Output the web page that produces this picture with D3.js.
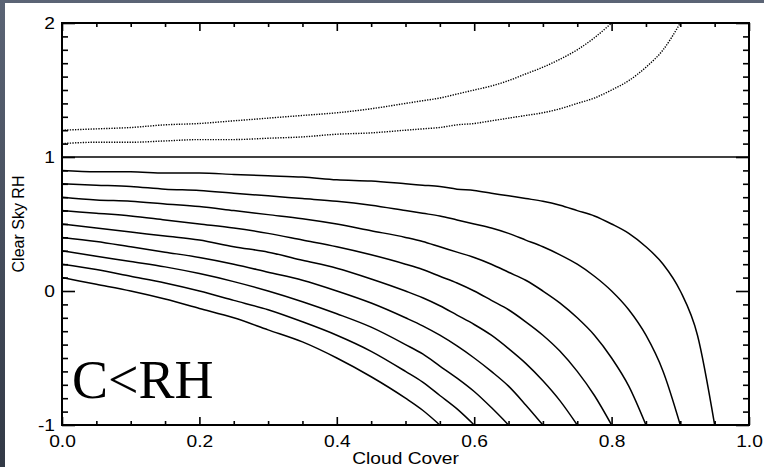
<!DOCTYPE html>
<html>
<head>
<meta charset="utf-8">
<script src="https://cdn.jsdelivr.net/npm/d3@7"></script>
<style>
  html, body { margin: 0; padding: 0; background: #3f4757; }
  svg { display: block; }
</style>
</head>
<body>
<svg id="chart" width="764" height="467"></svg>
<script>
// Cloud-cover sample points shared by every curve
const cover = [0, .05, .1, .15, .2, .25, .3, .35, .4, .45, .5, .525, .55, .575, .6,
  .625, .65, .675, .7, .725, .75, .775, .8, .825, .85, .875, .9, .925, .95];

// Clear-sky RH for grid-box RH below saturation (solid curves)
const rh90 = [.90, .89, .89, .88, .88, .87, .86, .85, .83, .82, .80, .79, .78, .76, .75, .73, .71, .69, .67, .64, .60, .56, .50, .43, .33, .20, 0, -.33, -1];
const rh80 = [.80, .79, .78, .76, .75, .73, .71, .69, .67, .64, .60, .58, .56, .53, .50, .47, .43, .38, .33, .27, .20, .11, 0, -.14, -.33, -.60, -1];
const rh70 = [.70, .68, .67, .65, .63, .60, .57, .54, .50, .45, .40, .37, .33, .29, .25, .20, .14, .08, 0, -.09, -.20, -.33, -.50, -.71, -1];
const rh60 = [.60, .58, .56, .53, .50, .47, .43, .38, .33, .27, .20, .16, .11, .06, 0, -.07, -.14, -.23, -.33, -.45, -.60, -.78, -1];
const rh50 = [.50, .47, .44, .41, .38, .33, .29, .23, .17, .09, 0, -.05, -.11, -.18, -.25, -.33, -.43, -.54, -.67, -.82, -1];
const rh40 = [.40, .37, .33, .29, .25, .20, .14, .08, 0, -.09, -.20, -.26, -.33, -.41, -.50, -.60, -.71, -.85, -1];
const rh30 = [.30, .26, .22, .18, .13, .07, 0, -.08, -.17, -.27, -.40, -.47, -.56, -.65, -.75, -.87, -1];
const rh20 = [.20, .16, .11, .06, 0, -.07, -.14, -.23, -.33, -.45, -.60, -.68, -.78, -.88, -1];
const rh10 = [.10, .05, 0, -.06, -.13, -.20, -.29, -.38, -.50, -.64, -.80, -.89, -1];

// Supersaturated grid-box RH (dotted curves)
const rh120 = [1.20, 1.21, 1.22, 1.24, 1.25, 1.27, 1.29, 1.31, 1.33, 1.36, 1.40, 1.42, 1.44, 1.47, 1.50, 1.53, 1.57, 1.62, 1.67, 1.73, 1.80, 1.89, 2];
const rh110 = [1.10, 1.11, 1.11, 1.12, 1.13, 1.13, 1.14, 1.15, 1.17, 1.18, 1.20, 1.21, 1.22, 1.24, 1.25, 1.27, 1.29, 1.31, 1.33, 1.36, 1.40, 1.44, 1.50, 1.57, 1.67, 1.80, 2];

// Saturation reference line
const satCover = [0, 1];
const satRH = [1, 1];

// Axis ticks and labels
const xMajor = [0, .2, .4, .6, .8, 1];
const xMinor = [.05, .1, .15, .25, .3, .35, .45, .5, .55, .65, .7, .75, .85, .9, .95];
const yMajor = [-1, 0, 1, 2];
const yMajorLabels = ["-1", "0", "1", "2"];
const yMinor = [-.9, -.8, -.7, -.6, -.5, -.4, -.3, -.2, -.1, .1, .2, .3, .4, .5, .6, .7, .8, .9,
  1.1, 1.2, 1.3, 1.4, 1.5, 1.6, 1.7, 1.8, 1.9];
const xTitle = "Cloud Cover";
const yTitle = "Clear Sky RH";
const panelNote = "C<RH";

const solidSeries = [rh90, rh80, rh70, rh60, rh50, rh40, rh30, rh20, rh10];
const dottedSeries = [rh120, rh110];

const W = 764, H = 467;
const svg = d3.select("#chart");

// Backdrop: slate frame with a white page
const defs = svg.append("defs");
const grad = defs.append("linearGradient").attr("id", "bg").attr("x1", 0).attr("y1", 0).attr("x2", 0).attr("y2", 1);
grad.append("stop").attr("offset", "0%").attr("stop-color", "#5b6475");
grad.append("stop").attr("offset", "100%").attr("stop-color", "#323946");
svg.append("rect").attr("width", W).attr("height", H).attr("fill", "url(#bg)");
svg.append("rect").attr("x", 5).attr("y", 3).attr("width", W - 5).attr("height", H - 3).attr("fill", "#fff");

const margin = { left: 62, right: 15, top: 23, bottom: 42 };
const x = d3.scaleLinear().domain([0, 1]).range([margin.left, W - margin.right]);
const y = d3.scaleLinear().domain([-1, 2]).range([H - margin.bottom, margin.top]);

defs.append("clipPath").attr("id", "plotClip").append("rect")
  .attr("x", x(0)).attr("y", y(2)).attr("width", x(1) - x(0)).attr("height", y(-1) - y(2));

const font = "'Liberation Sans', Arial, Helvetica, sans-serif";
const sx = 1.2; // horizontal stretch of axis lettering

function styleAxis(g) {
  g.select(".domain").remove();
  g.selectAll(".tick line").attr("stroke", "#000").attr("stroke-width", 1.6);
  g.selectAll("text").attr("font-family", font).attr("font-size", 16).attr("fill", "#000");
}

// Bottom axis: majors with labels, then minors
svg.append("g").attr("transform", `translate(0,${y(-1)})`)
  .call(d3.axisBottom(x).tickValues(xMajor).tickSizeInner(-8).tickSizeOuter(0).tickFormat(d3.format(".1f")))
  .call(styleAxis)
  .call(g => g.selectAll("text").attr("y", 11).attr("dy", "0.71em")
    .attr("transform", `scale(${sx},1)`));
svg.append("g").attr("transform", `translate(0,${y(-1)})`)
  .call(d3.axisBottom(x).tickValues(xMinor).tickSizeInner(-4).tickSizeOuter(0).tickFormat(""))
  .call(styleAxis);

// Top axis (ticks only)
svg.append("g").attr("transform", `translate(0,${y(2)})`)
  .call(d3.axisTop(x).tickValues(xMajor).tickSizeInner(-8).tickSizeOuter(0).tickFormat(""))
  .call(styleAxis);
svg.append("g").attr("transform", `translate(0,${y(2)})`)
  .call(d3.axisTop(x).tickValues(xMinor).tickSizeInner(-4).tickSizeOuter(0).tickFormat(""))
  .call(styleAxis);

// Left axis: majors with labels, then minors
svg.append("g").attr("transform", `translate(${x(0)},0)`)
  .call(d3.axisLeft(y).tickValues(yMajor).tickSizeInner(-13).tickSizeOuter(0)
    .tickFormat((d, i) => yMajorLabels[i]))
  .call(styleAxis)
  .call(g => g.selectAll("text").attr("x", -7 / sx).attr("dy", "0.36em")
    .attr("transform", `scale(${sx},1)`));
svg.append("g").attr("transform", `translate(${x(0)},0)`)
  .call(d3.axisLeft(y).tickValues(yMinor).tickSizeInner(-6).tickSizeOuter(0).tickFormat(""))
  .call(styleAxis);

// Right axis (ticks only)
svg.append("g").attr("transform", `translate(${x(1)},0)`)
  .call(d3.axisRight(y).tickValues(yMajor).tickSizeInner(-13).tickSizeOuter(0).tickFormat(""))
  .call(styleAxis);
svg.append("g").attr("transform", `translate(${x(1)},0)`)
  .call(d3.axisRight(y).tickValues(yMinor).tickSizeInner(-6).tickSizeOuter(0).tickFormat(""))
  .call(styleAxis);

// Plot frame
svg.append("rect")
  .attr("x", x(0)).attr("y", y(2)).attr("width", x(1) - x(0)).attr("height", y(-1) - y(2))
  .attr("fill", "none").attr("stroke", "#000").attr("stroke-width", 2);

// Curves
const line = d3.line()
  .x(d => x(d[0]))
  .y(d => y(d[1]))
  .curve(d3.curveMonotoneX);

const plot = svg.append("g").attr("clip-path", "url(#plotClip)");

plot.selectAll("path.solid")
  .data(solidSeries.map(vals => vals.map((v, i) => [cover[i], v])))
  .join("path").attr("class", "solid")
  .attr("d", line)
  .attr("fill", "none").attr("stroke", "#000").attr("stroke-width", 1.5);

plot.selectAll("path.dotted")
  .data(dottedSeries.map(vals => vals.map((v, i) => [cover[i], v])))
  .join("path").attr("class", "dotted")
  .attr("d", line)
  .attr("fill", "none").attr("stroke", "#000").attr("stroke-width", 1.4)
  .attr("stroke-dasharray", "1.3,1.3");

plot.append("path")
  .datum(satCover.map((c, i) => [c, satRH[i]]))
  .attr("d", d3.line().x(d => x(d[0])).y(d => y(d[1])))
  .attr("fill", "none").attr("stroke", "#000").attr("stroke-width", 1.5);

// Panel annotation
svg.append("text")
  .attr("x", x(0) + 10).attr("y", 398)
  .attr("font-family", "'Liberation Serif', 'Times New Roman', Times, serif")
  .attr("font-size", 54).attr("fill", "#000")
  .text(panelNote);

// Axis titles
const midX = (x(0) + x(1)) / 2;
svg.append("text")
  .attr("transform", `translate(${midX},464) scale(${sx},1)`)
  .attr("text-anchor", "middle")
  .attr("font-family", font).attr("font-size", 16).attr("fill", "#000")
  .text(xTitle);

svg.append("text")
  .attr("transform", `translate(24,${(y(2) + y(-1)) / 2}) rotate(-90)`)
  .attr("text-anchor", "middle")
  .attr("font-family", font).attr("font-size", 16).attr("fill", "#000")
  .text(yTitle);
</script>
</body>
</html>
